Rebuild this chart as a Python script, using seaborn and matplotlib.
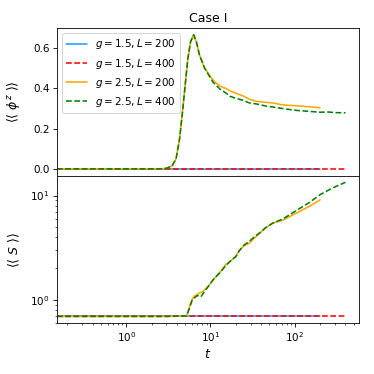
import seaborn as sns
import matplotlib.pyplot as plt
import pandas as pd

# g = 1.5 : nothing happens, flat lines
t_flat_200 = [0.15, 1.0, 10.0, 100.0, 200.0]
t_flat_400 = [0.15, 1.0, 10.0, 100.0, 400.0]
phi_flat_200 = [0.0, 0.0, 0.0, 0.0, 0.0]
phi_flat_400 = [0.0, 0.0, 0.0, 0.0, 0.0]
s_flat_200 = [0.693, 0.693, 0.693, 0.693, 0.693]
s_flat_400 = [0.693, 0.693, 0.693, 0.693, 0.693]

# g = 2.5, order parameter
t_phi_200 = [0.15, 1.0, 2.5, 3.0, 3.5, 3.9, 4.3, 4.7, 5.1, 5.4, 5.8, 6.3, 6.8, 7.4,
             8.5, 10.7, 13.0, 15.4, 17.0, 20.0, 24.3, 29.0, 35.0, 45.0, 55.0,
             70.0, 85.0, 105.0, 130.0, 160.0, 200.0]
phi_200 = [0.0, 0.0, 0.0, 0.003, 0.015, 0.05, 0.15, 0.30, 0.45, 0.55, 0.63, 0.665,
           0.63, 0.565, 0.50, 0.44, 0.41, 0.398, 0.387, 0.375, 0.362, 0.345, 0.335,
           0.33, 0.327, 0.318, 0.315, 0.313, 0.31, 0.307, 0.303]
t_phi_400 = [0.15, 1.0, 2.5, 3.0, 3.5, 3.9, 4.3, 4.7, 5.1, 5.4, 5.8, 6.3, 6.8, 7.4,
             8.5, 10.7, 13.0, 15.4, 17.0, 20.0, 24.3, 29.0, 35.0, 45.0, 55.0,
             70.0, 85.0, 105.0, 130.0, 160.0, 200.0, 250.0, 300.0, 400.0]
phi_400 = [0.0, 0.0, 0.0, 0.003, 0.015, 0.05, 0.15, 0.30, 0.45, 0.55, 0.63, 0.665,
           0.63, 0.565, 0.50, 0.43, 0.395, 0.375, 0.36, 0.35, 0.34, 0.327, 0.322,
           0.312, 0.307, 0.30, 0.295, 0.29, 0.287, 0.284, 0.281, 0.282, 0.279, 0.278]

# g = 2.5, entropy
t_s_200 = [0.15, 1.0, 3.0, 5.2, 5.6, 6.0, 6.4, 7.2, 8.1, 8.8, 9.7, 11.0, 12.8, 15.0,
           17.0, 20.0, 22.0, 25.0, 29.0, 33.0, 38.0, 45.0, 55.0, 72.0, 105.0,
           150.0, 200.0]
s_200 = [0.693, 0.693, 0.693, 0.70, 0.85, 1.0, 1.08, 1.15, 1.2, 1.28, 1.39, 1.58,
         1.82, 2.15, 2.33, 2.6, 3.0, 3.3, 3.5, 3.9, 4.3, 4.9, 5.45, 5.8, 6.8,
         7.9, 9.1]
t_s_400 = [0.15, 1.0, 3.0, 5.2, 5.6, 6.0, 6.4, 7.0, 7.7, 8.5, 9.7, 11.0, 12.8, 15.0,
           17.0, 20.0, 22.0, 25.0, 29.0, 33.0, 38.0, 45.0, 55.0, 72.0, 105.0,
           150.0, 200.0, 280.0, 400.0]
s_400 = [0.693, 0.693, 0.693, 0.70, 0.82, 0.97, 1.04, 1.1, 1.07, 1.2, 1.39, 1.6,
         1.8, 2.1, 2.33, 2.6, 2.95, 3.35, 3.65, 4.0, 4.37, 4.9, 5.45, 5.95, 7.2,
         8.6, 10.2, 11.8, 13.4]


def draw(ax, t, y, color, ls, label):
    df = pd.DataFrame({'t': t, 'y': y})
    sns.lineplot(data=df, x='t', y='y', ax=ax, color=color, linestyle=ls,
                 linewidth=1.5, label=label, sort=False)


def main():
    sns.set_style("ticks", {"axes.edgecolor": "black", "text.color": "black",
                            "xtick.color": "black", "ytick.color": "black",
                            "axes.labelcolor": "black"})
    dpi = 75
    fig, (ax1, ax2) = plt.subplots(2, 1, sharex=True, figsize=(374 / dpi, 374 / dpi), dpi=dpi)
    fig.subplots_adjust(left=0.152, right=0.96, top=0.925, bottom=0.136, hspace=0)

    blue = '#1E9BFF'
    draw(ax1, t_flat_200, phi_flat_200, blue, '-', r'$g=1.5, L=200$')
    draw(ax1, t_flat_400, phi_flat_400, 'red', '--', r'$g=1.5, L=400$')
    draw(ax1, t_phi_200, phi_200, 'orange', '-', r'$g=2.5, L=200$')
    draw(ax1, t_phi_400, phi_400, 'green', '--', r'$g=2.5, L=400$')

    draw(ax2, t_flat_200, s_flat_200, blue, '-', None)
    draw(ax2, t_flat_400, s_flat_400, 'red', '--', None)
    draw(ax2, t_s_200, s_200, 'orange', '-', None)
    draw(ax2, t_s_400, s_400, 'green', '--', None)

    ax1.set_xscale('log')
    ax2.set_yscale('log')
    ax1.set_xlim(0.15, 580)
    ax1.set_title('Case I', fontsize=12)
    ax1.set_ylabel(r'$\langle\langle\ \phi^z\ \rangle\rangle$', fontsize=12)
    ax2.set_ylabel(r'$\langle\langle\ S\ \rangle\rangle$', fontsize=12)
    ax1.yaxis.set_label_coords(-0.116, 0.5)
    ax2.yaxis.set_label_coords(-0.116, 0.5)
    ax2.set_xlabel(r'$t$', fontsize=12)
    ax1.set_xlabel('')
    ax1.legend(loc='upper left', fontsize=10)
    if ax2.get_legend() is not None:
        ax2.get_legend().remove()

    plt.savefig('out.png', dpi=dpi)


if __name__ == "__main__":
    main()
